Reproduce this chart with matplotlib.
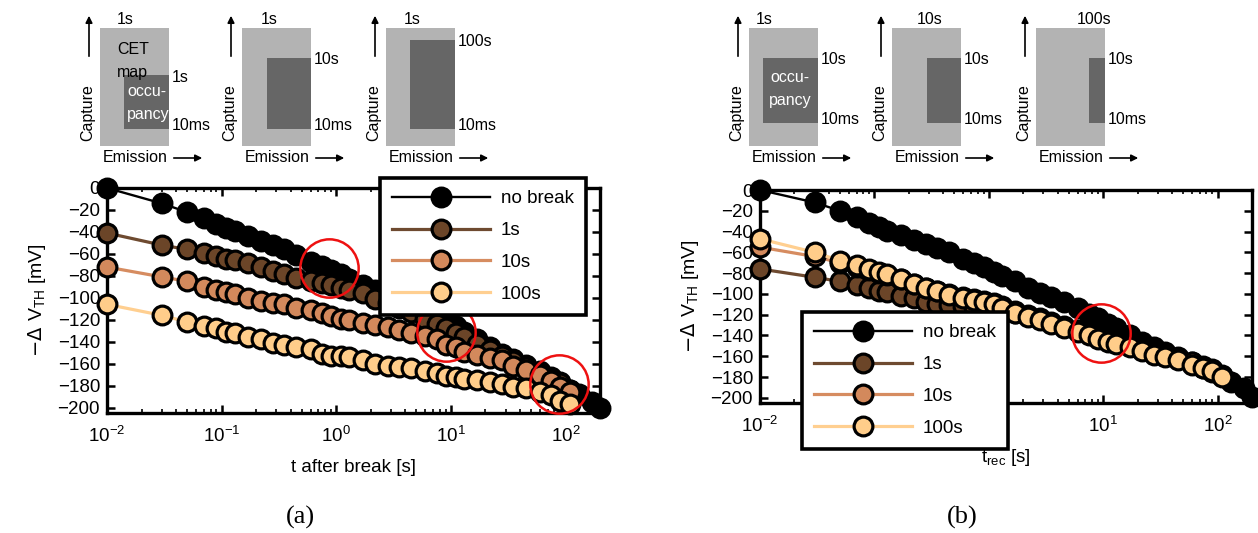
import matplotlib
matplotlib.use("Agg")
import matplotlib.pyplot as plt
from matplotlib.patches import Rectangle

plt.rcParams['font.family'] = ['Liberation Sans', 'DejaVu Sans']

# measurement times [s]
t_all = [0.01, 0.03, 0.05, 0.07, 0.09, 0.11, 0.13, 0.17, 0.22, 0.28, 0.35, 0.45,
         0.6, 0.75, 0.9, 1.1, 1.3, 1.7, 2.2, 2.8, 3.5, 4.5, 6, 7.5, 9, 11, 13,
         17, 22, 28, 35, 45, 60, 75, 90, 110, 130, 170, 200]

# panel (a): -dVth [mV] vs time after break
a_nobreak = [0, -14, -22, -27, -33, -36, -39, -44, -48, -52, -56, -61, -67, -71, -75,
             -78, -83, -88, -93, -98, -102, -107, -113, -118, -122, -126, -131, -138,
             -145, -151, -156, -161, -167, -172, -177, -184, -188, -195, -200]
a_1s = [-41, -52, -56, -59, -62, -65, -66, -68, -72, -76, -78, -82, -85, -87, -88,
        -91, -93, -96, -101, -105, -109, -113, -119, -124, -128, -132, -136, -142,
        -148, -153, -158, -163, -169, -174, -178, -184]
a_10s = [-72, -81, -85, -90, -93, -95, -97, -100, -103, -105, -106, -109, -111, -114,
         -117, -119, -120, -123, -125, -127, -129, -132, -135, -138, -143, -145, -149,
         -152, -155, -157, -162, -166, -170, -176, -181, -186]
a_100s = [-106, -116, -122, -126, -128, -131, -132, -136, -138, -141, -143, -145, -147,
          -151, -153, -153, -154, -157, -160, -162, -163, -164, -167, -169, -171, -172,
          -174, -175, -177, -179, -181, -182, -186, -189, -194, -197]

# panel (b): -dVth [mV] vs t_rec
b_nobreak = [0, -12, -20, -26, -32, -36, -39, -43, -48, -52, -56, -60, -66, -70, -74,
             -79, -83, -88, -94, -99, -103, -108, -114, -119, -123, -129, -133, -140,
             -146, -151, -156, -161, -166, -171, -175, -179, -185, -191, -199]
b_1s = [-76, -84, -88, -91, -94, -97, -98, -102, -104, -108, -110, -111, -112, -113,
        -114, -115, -115, -118, -121, -124, -128, -132, -136, -139, -142, -145, -147,
        -150, -154, -158, -160, -163, -167, -170, -173, -179]
b_10s = [-55, -64, -70, -74, -77, -80, -82, -86, -90, -94, -97, -100, -103, -105, -107,
         -109, -112, -116, -120, -123, -127, -131, -135, -138, -141, -144, -146, -149,
         -153, -157, -159, -162, -166, -169, -172, -178]
b_100s = [-47, -60, -68, -72, -76, -79, -81, -86, -90, -94, -97, -101, -104, -106, -108,
          -110, -114, -118, -122, -125, -129, -133, -137, -140, -143, -146, -148, -151,
          -155, -159, -161, -164, -168, -171, -174, -180]

labels = ['no break', '1s', '10s', '100s']
fills = ['#000000', '#6b4528', '#d3895c', '#ffcd8a']
lines = ['#000000', '#6e4a30', '#d68c60', '#ffcf90']

# red circles (t, value)
circ_a_t = [0.87, 9.1, 88]
circ_a_v = [-73, -131, -179]
circ_b_t = [9.6]
circ_b_v = [-137.5]

W, H = 1258, 533
fig = plt.figure(figsize=(W / 100, H / 100), dpi=100)


def px_box(x0, y0, x1, y1):
    return [x0 / W, 1 - y1 / H, (x1 - x0) / W, (y1 - y0) / H]


def panel(ax, series, ct, cv):
    for i, (y, lab) in enumerate(zip(series, labels)):
        lw = 1.7 if i == 0 else 2.3
        ax.plot(t_all[:len(y)], y, '-o', color=lines[i], lw=lw, ms=13.5,
                mfc=fills[i], mec='k', mew=2.3, label=lab, clip_on=False, zorder=3 + i)
    ax.plot(ct, cv, 'o', ms=42, mfc='none', mec='#ee1111', mew=1.8, zorder=10, clip_on=False)
    ax.set_xscale('log')
    ax.set_xlim(0.01, 200)
    ax.set_ylim(-205, 0)
    ax.set_yticks(range(-200, 1, 20))
    ax.tick_params(which='both', direction='in', top=True, right=True, labelsize=13.5)
    ax.tick_params(which='major', length=6, width=1.8)
    ax.tick_params(which='minor', length=3, width=1.2)
    ax.tick_params(axis='x', pad=9)
    ax.tick_params(axis='y', pad=5)
    for s in ax.spines.values():
        s.set_linewidth(2.4)
    ax.set_ylabel(r'$-\Delta\ \mathregular{V_{TH}}$ [mV]', fontsize=14, labelpad=7)


def add_legend(ax, x0, y0):
    leg = ax.legend(loc='upper left', bbox_to_anchor=(x0 / W, 1 - y0 / H),
                    bbox_transform=fig.transFigure, borderaxespad=0, fontsize=13.5,
                    handlelength=5.2, labelspacing=0.78, borderpad=0.65,
                    handletextpad=0.6, fancybox=False, framealpha=1, edgecolor='k')
    leg.get_frame().set_linewidth(2.6)
    leg.set_zorder(20)


ax_a = fig.add_axes(px_box(107, 188, 600, 413))
panel(ax_a, [a_nobreak, a_1s, a_10s, a_100s], circ_a_t, circ_a_v)
ax_a.set_xlabel('t after break [s]', fontsize=13.5, labelpad=10)
add_legend(ax_a, 380, 178)

ax_b = fig.add_axes(px_box(760, 190, 1252, 403))
panel(ax_b, [b_nobreak, b_1s, b_10s, b_100s], circ_b_t, circ_b_v)
ax_b.set_xlabel(r'$\mathregular{t_{rec}}$ [s]', fontsize=13.5, labelpad=8)
add_legend(ax_b, 802, 312)

# overlay in pixel coordinates for the CET-map sketches
ov = fig.add_axes([0, 0, 1, 1])
ov.set_xlim(0, W)
ov.set_ylim(H, 0)
ov.axis('off')

top_lbls = ['1s', '1s', '1s', '1s', '10s', '100s']
right_lbls = ['1s', '10s', '100s', '10s', '10s', '10s']
gray_x = [100, 242, 386, 749, 892, 1036]
dark_x = [124, 267, 410, 763, 927, 1089]
dark_top = [75, 58, 40, 58, 58, 58]
dark_bot = [129, 129, 129, 123, 123, 123]
top_dx = [17, 19, 18, 7, 25, 41]
fs = 11.5

for i in range(6):
    gx = gray_x[i]
    ov.add_patch(Rectangle((gx, 28), 69, 118, color='#b3b3b3', lw=0))
    ov.add_patch(Rectangle((dark_x[i], dark_top[i]), gx + 69 - dark_x[i],
                           dark_bot[i] - dark_top[i], color='#666666', lw=0))
    ov.text(gx + top_dx[i], 19, top_lbls[i], fontsize=fs, va='center', ha='left')
    ov.text(gx + 72, dark_top[i] + 2, right_lbls[i], fontsize=fs, va='center', ha='left')
    ov.text(gx + 72, dark_bot[i] - 4, '10ms', fontsize=fs, va='center', ha='left')
    ov.text(gx - 12, 113, 'Capture', fontsize=fs, rotation=90, va='center', ha='center')
    ov.annotate('', xy=(gx - 11, 13), xytext=(gx - 11, 59),
                arrowprops=dict(arrowstyle='-|>', lw=1.2, color='k', mutation_scale=10))
    ov.text(gx + 3, 157, 'Emission', fontsize=fs, va='center', ha='left')
    ov.annotate('', xy=(gx + 105, 158), xytext=(gx + 71, 158),
                arrowprops=dict(arrowstyle='-|>', lw=1.2, color='k', mutation_scale=10))

ov.text(117, 50, 'CET', fontsize=fs, va='center', ha='left')
ov.text(117, 73, 'map', fontsize=fs, va='center', ha='left')
ov.text(127, 91, 'occu-', fontsize=fs, va='center', ha='left', color='white')
ov.text(127, 115, 'pancy', fontsize=fs, va='center', ha='left', color='white')
ov.text(790, 78, 'occu-', fontsize=fs, va='center', ha='center', color='white')
ov.text(790, 100, 'pancy', fontsize=fs, va='center', ha='center', color='white')

ov.text(300, 517, '(a)', fontsize=19, family=['Liberation Serif', 'DejaVu Serif'],
        va='center', ha='center')
ov.text(962, 517, '(b)', fontsize=19, family=['Liberation Serif', 'DejaVu Serif'],
        va='center', ha='center')

fig.savefig('out.png', dpi=100)
